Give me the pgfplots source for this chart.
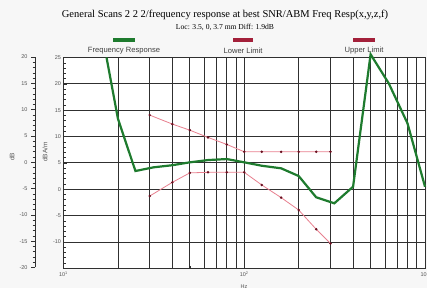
\documentclass[border=0pt]{standalone}
\usepackage{fontspec}
\setmainfont{Liberation Serif}
\setsansfont{Liberation Sans}
\usepackage{pgfplots}
\pgfplotsset{compat=1.18}
\definecolor{frgreen}{HTML}{1E7B2E}
\definecolor{limpink}{HTML}{E8808F}
\definecolor{limdot}{HTML}{6A1020}
\definecolor{legred}{HTML}{A3203A}
\definecolor{bg}{HTML}{F7F7F7}
\definecolor{tickc}{HTML}{555555}
\definecolor{gridc}{HTML}{303030}
\begin{document}
\begin{tikzpicture}
\fill[bg] (0pt,0pt) rectangle (427pt,288pt);
\useasboundingbox (0pt,0pt) rectangle (427pt,288pt);
% outer dB ruler
\begin{axis}[at={(35pt,20.5pt)}, anchor=south west, scale only axis, width=1pt, height=210.5pt,
  ymin=-20, ymax=20, xmin=0, xmax=1, hide x axis, axis y line*=left,
  ytick={-20,-15,...,20}, minor y tick num=4, tick align=outside,
  major tick length=4pt, minor tick length=2.5pt,
  yticklabel style={font=\sffamily\fontsize{5.5}{6}\selectfont, text=tickc},
  /pgf/number format/assume math mode=true,
  axis line style={gridc, line width=0.6pt}, tick style={gridc, line width=0.5pt}]
\end{axis}
\begin{axis}[at={(63.5pt,19.8pt)}, anchor=south west, scale only axis, width=361.5pt, height=210.7pt,
  xmode=log, xmin=10, xmax=1000, ymin=-15, ymax=25,
  xtick={10,100,1000}, xticklabels={10\textsuperscript{1},10\textsuperscript{2},10\textsuperscript{3}},
  ytick={-15,-10,...,25}, yticklabels={,-10,-5,0,5,10,15,20,25},
  minor y tick num=4, ytick pos=left, xtick pos=bottom, tick align=inside,
  major tick length=3.5pt, minor tick length=2.5pt,
  xmajorgrids, xminorgrids, ymajorgrids,
  grid style={gridc, line width=0.7pt}, minor grid style={gridc, line width=0.7pt},
  axis line style={gridc, line width=0.7pt}, tick style={gridc, line width=0.5pt},
  ticklabel style={font=\sffamily\fontsize{5.5}{6}\selectfont, text=tickc},
  yticklabel style={xshift=1pt},
  /pgf/number format/assume math mode=true,
  axis background/.style={fill=white},
  clip=false]
\addplot[limpink, line width=0.8pt, mark=*, mark size=0.8pt, mark options={fill=limdot, draw=limdot}] coordinates {
 (30,14.06) (40,12.36) (50,11.2) (63,9.83) (80,8.5) (100,7.1) (125,7.1) (160,7.1) (200,7.1) (250,7.1) (300,7.1)};
\addplot[limpink, line width=0.8pt, mark=*, mark size=0.8pt, mark options={fill=limdot, draw=limdot}] coordinates {
 (30,-1.3) (40,1.3) (50,3.1) (63,3.2) (80,3.2) (100,3.2) (125,0.8) (160,-1.6) (200,-3.95) (250,-7.6) (300,-10.3)};
\addplot[frgreen, line width=2.2pt] coordinates {
 (17.3,25) (20,13.4) (25,3.45) (31.5,4.15) (40,4.55) (50,5.1) (63,5.53) (80,5.72) (100,5.1) (125,4.45) (160,3.96) (200,2.5) (250,-1.54) (315,-2.68) (400,0.47) (500,25.6) (630,20.1) (800,12.5) (1000,0.47)};
\end{axis}
\node[font=\fontsize{10.5}{12}\selectfont] at (225pt,273pt) {General Scans 2 2 2/frequency response at best SNR/ABM Freq Resp(x,y,z,f)};
\node[font=\fontsize{7.6}{9}\selectfont] at (225pt,261pt) {Loc: 3.5, 0, 3.7 mm Diff: 1.9dB};
\draw[frgreen, line width=3.5pt] (113pt,248pt) -- (135pt,248pt);
\draw[legred, line width=3.5pt] (233pt,248pt) -- (253pt,248pt);
\draw[legred, line width=3.5pt] (353pt,248pt) -- (375pt,248pt);
\node[font=\sffamily\fontsize{7.6}{9}\selectfont, text=black!75] at (124pt,237pt) {Frequency Response};
\node[font=\sffamily\fontsize{7.6}{9}\selectfont, text=black!75] at (243pt,237pt) {Lower Limit};
\node[font=\sffamily\fontsize{7.6}{9}\selectfont, text=black!75] at (364pt,237pt) {Upper Limit};
\node[rotate=90, font=\sffamily\fontsize{6.5}{7}\selectfont, text=tickc] at (12pt,131pt) {dB};
\node[rotate=90, font=\sffamily\fontsize{6.5}{7}\selectfont, text=tickc] at (45pt,136pt) {dBA/m};
\node[font=\sffamily\fontsize{5.5}{6}\selectfont, text=tickc] at (244pt,1.5pt) {Hz};
\end{tikzpicture}
\end{document}
